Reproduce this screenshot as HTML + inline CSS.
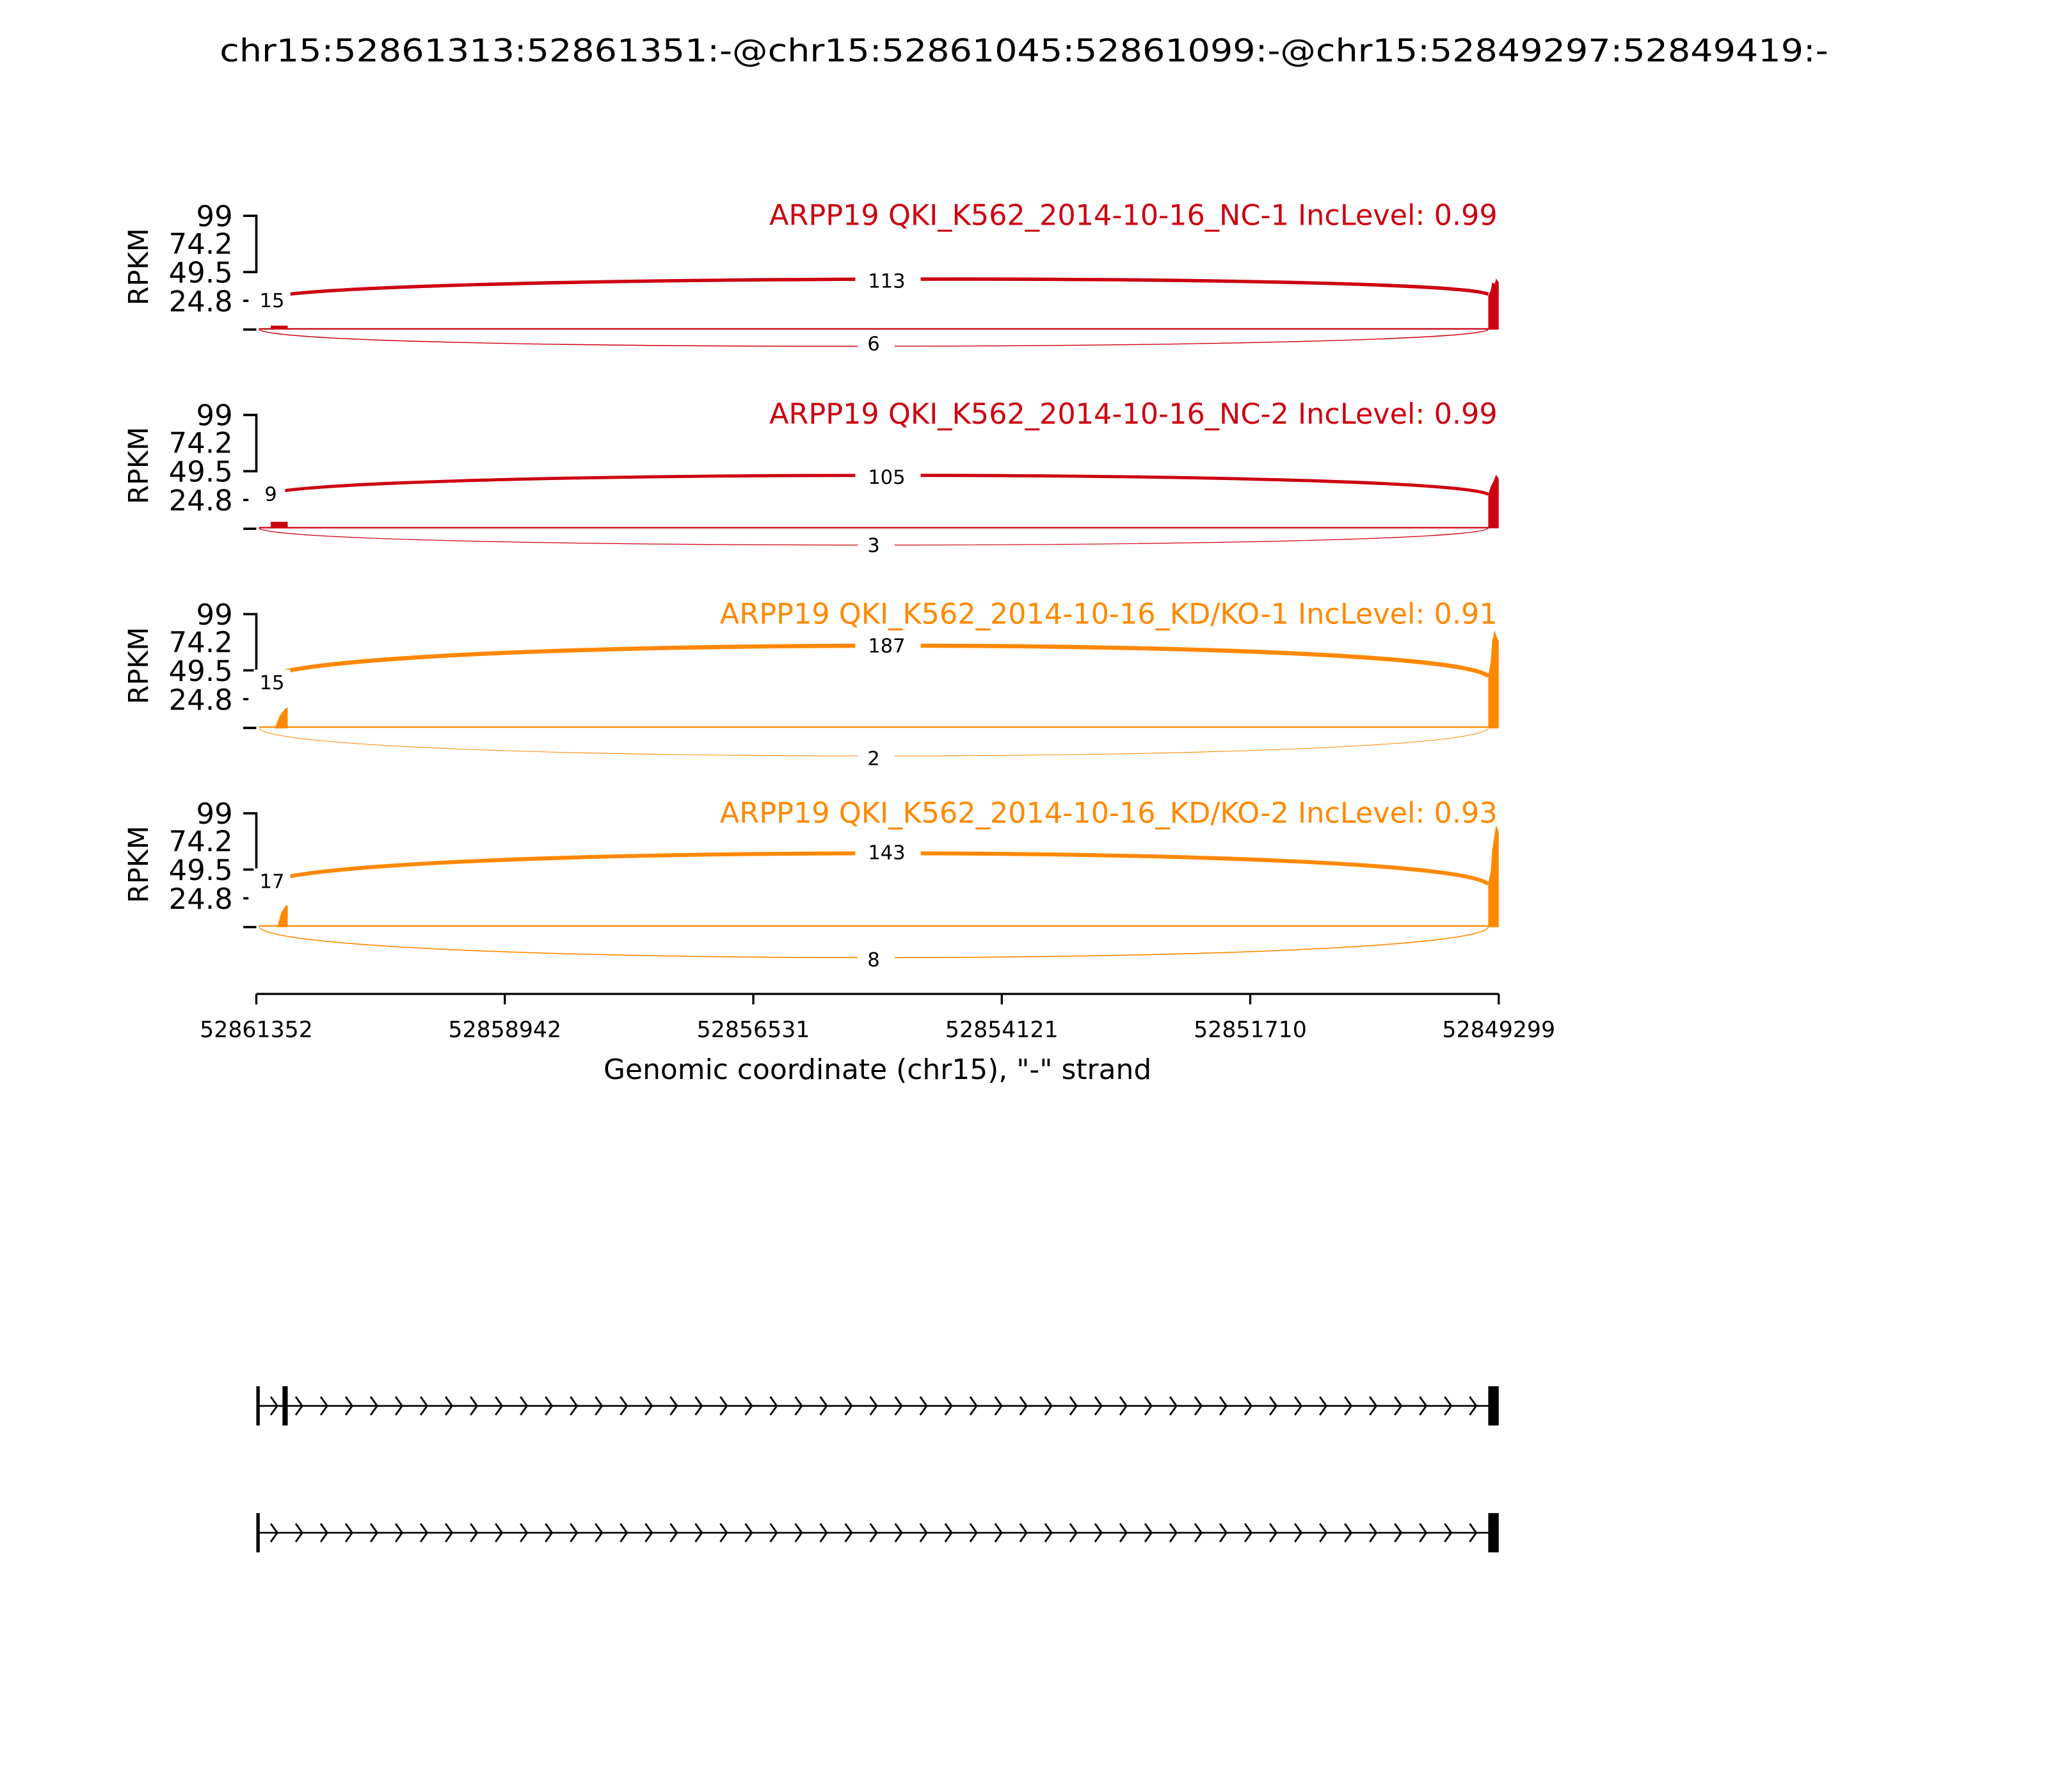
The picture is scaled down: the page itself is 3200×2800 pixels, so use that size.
<!DOCTYPE html>
<html><head><meta charset="utf-8"><style>html,body{margin:0;padding:0;background:#fff}svg{display:block}</style></head>
<body>
<svg width="3200" height="2800" viewBox="0 0 1566 1370.25" xmlns="http://www.w3.org/2000/svg" font-family="'DejaVu Sans','Liberation Sans',sans-serif">
<defs>
<pattern id="chev" x="200" y="0" width="19.1" height="1356" patternUnits="userSpaceOnUse">
<path d="M7,1068 L12,1075 L7,1082" fill="none" stroke="#000" stroke-width="1.4"/>
<path d="M7,1165 L12,1172 L7,1179" fill="none" stroke="#000" stroke-width="1.4"/>
</pattern>
</defs>
<rect width="1566" height="1370.25" fill="#fff"/>
<text x="783" y="47" font-size="24" text-anchor="middle" textLength="1230" lengthAdjust="spacingAndGlyphs">chr15:52861313:52861351:-@chr15:52861045:52861099:-@chr15:52849297:52849419:-</text>

<g font-size="22" text-anchor="end">
<g>
<path d="M186,165 H196 V208 H186 M186,230 H190 M186,252 H196" fill="none" stroke="#000" stroke-width="1.8"/>
<text x="178" y="173">99</text><text x="178" y="194">74.2</text><text x="178" y="216">49.5</text><text x="178" y="238">24.8</text>
</g>
<g transform="translate(0,152.3)">
<path d="M186,165 H196 V208 H186 M186,230 H190 M186,252 H196" fill="none" stroke="#000" stroke-width="1.8"/>
<text x="178" y="173">99</text><text x="178" y="194">74.2</text><text x="178" y="216">49.5</text><text x="178" y="238">24.8</text>
</g>
<g transform="translate(0,304.6)">
<path d="M186,165 H196 V208 H186 M186,230 H190 M186,252 H196" fill="none" stroke="#000" stroke-width="1.8"/>
<text x="178" y="173">99</text><text x="178" y="194">74.2</text><text x="178" y="216">49.5</text><text x="178" y="238">24.8</text>
</g>
<g transform="translate(0,456.9)">
<path d="M186,165 H196 V208 H186 M186,230 H190 M186,252 H196" fill="none" stroke="#000" stroke-width="1.8"/>
<text x="178" y="173">99</text><text x="178" y="194">74.2</text><text x="178" y="216">49.5</text><text x="178" y="238">24.8</text>
</g>
</g>
<g font-size="21" text-anchor="middle">
<text transform="translate(113,204) rotate(-90)">RPKM</text>
<text transform="translate(113,356) rotate(-90)">RPKM</text>
<text transform="translate(113,509) rotate(-90)">RPKM</text>
<text transform="translate(113,661) rotate(-90)">RPKM</text>
</g>

<g font-size="21.8" text-anchor="end">
<text x="1145" y="172" fill="#cc0011">ARPP19 QKI_K562_2014-10-16_NC-1 IncLevel: 0.99</text>
<text x="1145" y="324" fill="#cc0011">ARPP19 QKI_K562_2014-10-16_NC-2 IncLevel: 0.99</text>
<text x="1145" y="477" fill="#ff8800">ARPP19 QKI_K562_2014-10-16_KD/KO-1 IncLevel: 0.91</text>
<text x="1145" y="629" fill="#ff8800">ARPP19 QKI_K562_2014-10-16_KD/KO-2 IncLevel: 0.93</text>
</g>

<g fill="#cc0011" stroke="none">
<path d="M1138,252 V226 L1140,222 L1141,216 L1143,217 L1144,213 L1146,216 V252 Z"/>
<rect x="207" y="249" width="13" height="3"/>
<path d="M1138,404 V378 L1140,372 L1142,368 L1144,363 L1146,366 V404 Z"/>
<rect x="207" y="399" width="13" height="5"/>
</g>
<g fill="#ff8800" stroke="none">
<path d="M1138,557 V517 L1140,505 L1141,490 L1143,482 L1144,486 L1146,490 V557 Z"/>
<path d="M210,557 L214,547 L218,542 L220,541 V557 Z"/>
<path d="M1138,709 V676 L1140,665 L1141,650 L1143,637 L1144,631 L1146,636 V709 Z"/>
<path d="M212,709 L215,698 L218,693 L220,692 V709 Z"/>
</g>
<g fill="none" stroke-width="1.1">
<path d="M198,251.5 H1138" stroke="#cc0011"/>
<path d="M198,403.5 H1138" stroke="#cc0011"/>
<path d="M198,556 H1138" stroke="#ff8800"/>
<path d="M198,708 H1138" stroke="#ff8800"/>
</g>
<g fill="none">
<path d="M200,229 C230,210 1100,208 1138,225" stroke="#cc0011" stroke-width="2.6"/>
<path d="M198,252 C220,270 1120,268 1138,252" stroke="#cc0011" stroke-width="0.7"/>
<path d="M200,379 C230,359 1100,358 1138,378" stroke="#cc0011" stroke-width="2.4"/>
<path d="M198,404 C220,421 1120,421 1138,404" stroke="#cc0011" stroke-width="0.6"/>
<path d="M200,520 C230,486 1100,485 1138,517" stroke="#ff8800" stroke-width="3.2"/>
<path d="M198,557 C220,585 1120,585 1138,557" stroke="#ff8800" stroke-width="0.5"/>
<path d="M200,677 C230,645 1100,644 1138,676" stroke="#ff8800" stroke-width="3"/>
<path d="M198,709 C220,740 1120,740 1138,709" stroke="#ff8800" stroke-width="0.8"/>
</g>
<g font-size="15" text-anchor="middle" fill="#000">
<rect x="194" y="220" width="28" height="20" fill="#fff"/><text x="208" y="235">15</text>
<rect x="654" y="205" width="50" height="20" fill="#fff"/><text x="678" y="220">113</text>
<rect x="656" y="253" width="28" height="20" fill="#fff"/><text x="668" y="268">6</text>
<rect x="196" y="368" width="22" height="20" fill="#fff"/><text x="207" y="383">9</text>
<rect x="654" y="355" width="50" height="20" fill="#fff"/><text x="678" y="370">105</text>
<rect x="656" y="407" width="28" height="20" fill="#fff"/><text x="668" y="422">3</text>
<rect x="194" y="512" width="28" height="20" fill="#fff"/><text x="208" y="527">15</text>
<rect x="654" y="484" width="50" height="20" fill="#fff"/><text x="678" y="499">187</text>
<rect x="656" y="570" width="28" height="20" fill="#fff"/><text x="668" y="585">2</text>
<rect x="194" y="664" width="28" height="20" fill="#fff"/><text x="208" y="679">17</text>
<rect x="654" y="642" width="50" height="20" fill="#fff"/><text x="678" y="657">143</text>
<rect x="656" y="724" width="28" height="20" fill="#fff"/><text x="668" y="739">8</text>
</g>

<path d="M196,760 H1146 M196,760 V768 M386,760 V768 M576,760 V768 M766,760 V768 M956,760 V768 M1146,760 V768" stroke="#000" stroke-width="1.6" fill="none"/>
<g font-size="17" text-anchor="middle">
<text x="196" y="793">52861352</text><text x="386" y="793">52858942</text><text x="576" y="793">52856531</text>
<text x="766" y="793">52854121</text><text x="956" y="793">52851710</text><text x="1146" y="793">52849299</text>
</g>
<text x="671" y="825" font-size="21.5" text-anchor="middle">Genomic coordinate (chr15), "-" strand</text>

<rect x="205" y="1060" width="932" height="30" fill="url(#chev)"/>
<rect x="205" y="1157" width="932" height="30" fill="url(#chev)"/>
<path d="M197,1075 H1142 M197,1172 H1142" stroke="#000" stroke-width="1.3"/>
<rect x="196" y="1060" width="2.6" height="30" fill="#000"/>
<rect x="216" y="1060" width="4" height="30" fill="#000"/>
<rect x="1138" y="1060" width="8" height="30" fill="#000"/>
<rect x="196" y="1157" width="2.6" height="30" fill="#000"/>
<rect x="1138" y="1157" width="8" height="30" fill="#000"/>
</svg>
</body></html>
